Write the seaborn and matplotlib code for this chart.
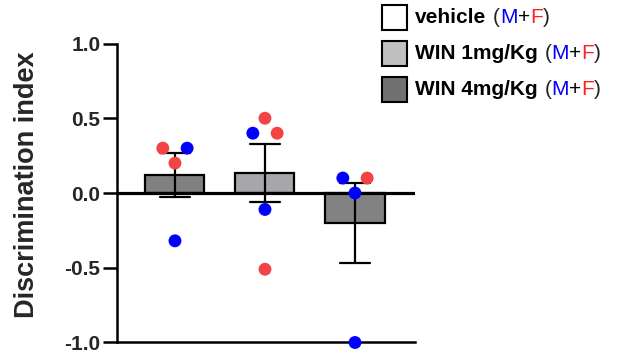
import matplotlib
matplotlib.use("Agg")
import matplotlib.pyplot as plt
import numpy as np
import pandas as pd
import seaborn as sns
from matplotlib.patches import Rectangle
from matplotlib.offsetbox import AnchoredOffsetbox, DrawingArea, HPacker, VPacker, TextArea

# Per-animal discrimination index, grouped by treatment
groups = ["vehicle", "WIN 1mg/Kg", "WIN 4mg/Kg"]
vehicle_vals = [0.30, 0.30, 0.20, -0.32]
vehicle_sex = ["F", "M", "F", "M"]
win1_vals = [0.50, 0.40, 0.40, -0.11, -0.51]
win1_sex = ["F", "M", "F", "M", "F"]
win4_vals = [0.10, 0.10, 0.00, -1.00]
win4_sex = ["M", "F", "M", "M"]

# horizontal spread of the dots around each bar centre (in dot steps)
vehicle_spread = [-1, 1, 0, 0]
win1_spread = [0, -1, 1, 0, 0]
win4_spread = [-1, 1, 0, 0]

bar_colors = ["#808080", "#a7a7a9", "#828282"]
legend_colors = ["#ffffff", "#c0c0c0", "#707070"]
sex_colors = {"M": "#0000ff", "F": "#f24444"}

df = pd.DataFrame({
    "group": [groups[0]] * len(vehicle_vals) + [groups[1]] * len(win1_vals) + [groups[2]] * len(win4_vals),
    "value": vehicle_vals + win1_vals + win4_vals,
    "sex": vehicle_sex + win1_sex + win4_sex,
    "spread": vehicle_spread + win1_spread + win4_spread,
})

sns.set_style("white")
plt.rcParams["font.family"] = ["Liberation Sans", "DejaVu Sans"]

fig = plt.figure(figsize=(6.24, 3.54), dpi=100)
ax = fig.add_axes([0.1875, 0.0325, 0.4776, 0.8446])

sns.barplot(data=df, x="group", y="value", hue="group", order=groups, hue_order=groups,
            palette=bar_colors, legend=False, errorbar="se", width=0.656,
            edgecolor="black", linewidth=1.6, capsize=0.33,
            err_kws={"color": "black", "linewidth": 1.6}, ax=ax)

ax.axhline(0, color="black", linewidth=2.3, zorder=2.5)

dot_step = 0.135
xpos = df["group"].map({g: i for i, g in enumerate(groups)}) + df["spread"] * dot_step
ax.scatter(xpos, df["value"], s=86, c=df["sex"].map(sex_colors), linewidths=0,
           zorder=4, clip_on=False)

ax.set_xlim(-0.644, 2.667)
ax.set_ylim(-1.0, 1.0)
ax.set_yticks([-1.0, -0.5, 0.0, 0.5, 1.0])
ax.set_yticklabels(["-1.0", "-0.5", "0.0", "0.5", "1.0"])
ax.set_xticks([])
ax.set_xlabel("")
ax.set_ylabel("Discrimination index", fontsize=19.5, fontweight="bold")
ax.yaxis.set_label_coords(-0.257, 0.527)
ax.tick_params(axis="y", length=10, width=1.8, pad=2, labelsize=15, left=True, color="black")
for lab in ax.get_yticklabels():
    lab.set_fontweight("bold")

for side in ["top", "right"]:
    ax.spines[side].set_visible(False)
for side in ["left", "bottom"]:
    ax.spines[side].set_linewidth(1.8)
    ax.spines[side].set_color("black")

# Legend with coloured sex annotation
fs = 15
box = 19.5
rows = []
for color, name in zip(legend_colors, groups):
    da = DrawingArea(box, box, 0, 0)
    da.add_artist(Rectangle((0.75, 0.75), box - 1.5, box - 1.5, facecolor=color,
                            edgecolor="black", linewidth=1.5))
    base = dict(fontsize=fs, color="black")
    parts = [
        TextArea(name, textprops=dict(base, fontweight="bold")),
        TextArea("(", textprops=dict(base, color="#222222")),
        TextArea("M", textprops=dict(base, color=sex_colors["M"])),
        TextArea("+", textprops=base),
        TextArea("F", textprops=dict(base, color="#ff2020")),
        TextArea(")", textprops=dict(base, color="#222222")),
    ]
    label = HPacker(children=[parts[0], HPacker(children=parts[1:], sep=0, pad=0, align="baseline")],
                    sep=5, pad=0, align="baseline")
    rows.append(HPacker(children=[da, label], sep=5, pad=0, align="center"))

legend_box = VPacker(children=rows, sep=6.5, pad=0, align="left")
anchored = AnchoredOffsetbox(loc="upper left", child=legend_box, pad=0, borderpad=0,
                             frameon=False, bbox_to_anchor=(381 / 624, 1 - 4 / 354),
                             bbox_transform=fig.transFigure)
fig.add_artist(anchored)

fig.savefig("out.png", dpi=100)
